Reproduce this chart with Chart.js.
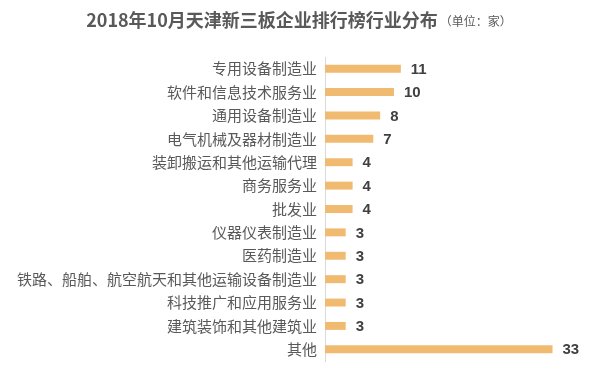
<!DOCTYPE html>
<html>
<head>
<meta charset="utf-8">
<script src="https://cdn.jsdelivr.net/npm/chart.js@4/dist/chart.umd.min.js"></script>
<style>
html,body{margin:0;padding:0;background:#fff;}
#wrap{width:605px;height:378px;position:relative;}
</style>
</head>
<body>
<div id="wrap"><canvas id="c" width="605" height="378"></canvas></div>
<script>
const categories = ["专用设备制造业","软件和信息技术服务业","通用设备制造业","电气机械及器材制造业","装卸搬运和其他运输代理","商务服务业","批发业","仪器仪表制造业","医药制造业","铁路、船舶、航空航天和其他运输设备制造业","科技推广和应用服务业","建筑装饰和其他建筑业","其他"];
const counts = [11,10,8,7,4,4,4,3,3,3,3,3,33];
const titleMain = "2018年10月天津新三板企业排行榜行业分布";
const titleUnit = "（单位：家）";

const FONT = "'Noto Sans CJK SC','Microsoft YaHei',sans-serif";

const titlePlugin = {
  id: 'titleDraw',
  afterDraw(chart) {
    const ctx = chart.ctx;
    ctx.save();
    ctx.textBaseline = 'alphabetic';
    ctx.fillStyle = '#595959';
    ctx.font = "bold 18px " + FONT;
    const w1 = ctx.measureText(titleMain).width;
    ctx.font = "12px " + FONT;
    const w2 = ctx.measureText(titleUnit).width;
    let x = 299 - (w1 + 2 + w2) / 2;
    ctx.font = "bold 18px " + FONT;
    ctx.fillText(titleMain, x, 27);
    ctx.font = "12px " + FONT;
    ctx.fillText(titleUnit, x + w1 + 2, 26);
    ctx.restore();
  }
};

const valuePlugin = {
  id: 'valueLabels',
  afterDatasetsDraw(chart) {
    const ctx = chart.ctx;
    const meta = chart.getDatasetMeta(0);
    ctx.save();
    ctx.font = "bold 15px 'Liberation Sans', Arial, sans-serif";
    ctx.fillStyle = '#404040';
    ctx.textAlign = 'left';
    ctx.textBaseline = 'middle';
    meta.data.forEach((bar, i) => {
      ctx.fillText(String(counts[i]), bar.x + 10, bar.y + 1);
    });
    ctx.restore();
  }
};

new Chart(document.getElementById('c'), {
  type: 'bar',
  data: {
    labels: categories,
    datasets: [{
      data: counts,
      backgroundColor: '#F0BA70',
      borderWidth: 0,
      barPercentage: 0.34,
      categoryPercentage: 1.0
    }]
  },
  options: {
    indexAxis: 'y',
    responsive: false,
    animation: false,
    devicePixelRatio: 1,
    layout: { padding: { top: 57, bottom: 14, left: 0, right: 18 } },
    plugins: { legend: { display: false }, tooltip: { enabled: false }, title: { display: false } },
    scales: {
      x: {
        display: false,
        min: 0,
        max: 38
      },
      y: {
        afterFit(s) { s.width = 325; },
        grid: { display: false, drawTicks: false },
        border: { display: true, color: '#D9D9D9', width: 1 },
        ticks: {
          padding: 8,
          color: '#595959',
          font: { size: 15, family: FONT }
        }
      }
    }
  },
  plugins: [titlePlugin, valuePlugin]
});
</script>
</body>
</html>
